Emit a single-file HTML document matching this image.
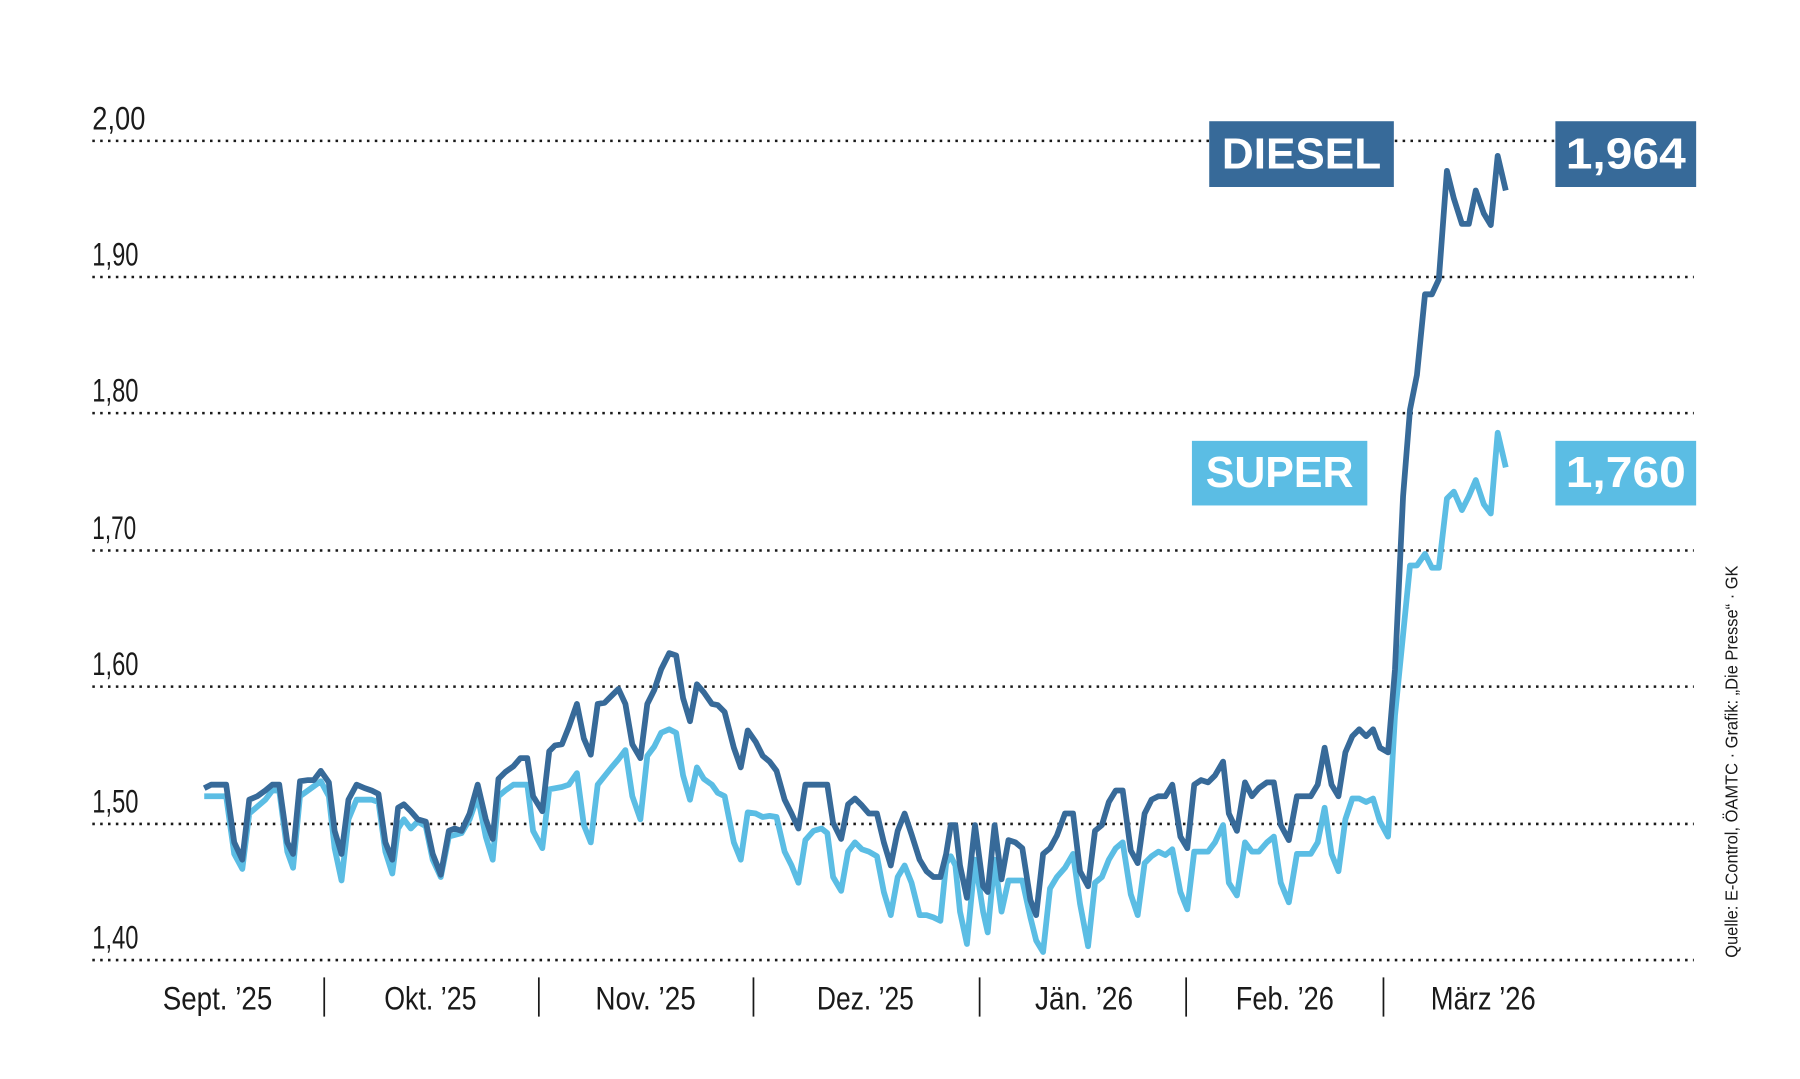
<!DOCTYPE html>
<html><head><meta charset="utf-8"><style>
html,body{margin:0;padding:0;background:#fff;}
svg{display:block;}
text{font-family:"Liberation Sans",sans-serif;}
</style></head><body>
<svg width="1800" height="1079" viewBox="0 0 1560 935" xmlns="http://www.w3.org/2000/svg">
<rect width="1560" height="935" fill="#fff"/>
<g stroke="#1a1a1a" stroke-width="2.2" stroke-dasharray="2.2 4.6" stroke-linecap="butt">
<line x1="80" y1="122" x2="1468" y2="122"/>
<line x1="80" y1="240" x2="1468" y2="240"/>
<line x1="80" y1="358" x2="1468" y2="358"/>
<line x1="80" y1="477" x2="1468" y2="477"/>
<line x1="80" y1="595" x2="1468" y2="595"/>
<line x1="80" y1="714" x2="1468" y2="714"/>
<line x1="80" y1="832" x2="1468" y2="832"/>
</g>
<g font-size="28" fill="#1a1a1a">
<text x="80" y="112" textLength="46" lengthAdjust="spacingAndGlyphs">2,00</text>
<text x="80" y="230" textLength="40" lengthAdjust="spacingAndGlyphs">1,90</text>
<text x="80" y="348" textLength="40" lengthAdjust="spacingAndGlyphs">1,80</text>
<text x="80" y="467" textLength="38" lengthAdjust="spacingAndGlyphs">1,70</text>
<text x="80" y="585" textLength="40" lengthAdjust="spacingAndGlyphs">1,60</text>
<text x="80" y="704" textLength="40" lengthAdjust="spacingAndGlyphs">1,50</text>
<text x="80" y="822" textLength="40" lengthAdjust="spacingAndGlyphs">1,40</text>
</g>
<g font-size="28" fill="#1a1a1a">
<text x="141" y="875" textLength="95" lengthAdjust="spacingAndGlyphs">Sept. ’25</text>
<text x="333" y="875" textLength="80" lengthAdjust="spacingAndGlyphs">Okt. ’25</text>
<text x="516" y="875" textLength="87" lengthAdjust="spacingAndGlyphs">Nov. ’25</text>
<text x="708" y="875" textLength="84" lengthAdjust="spacingAndGlyphs">Dez. ’25</text>
<text x="897" y="875" textLength="85" lengthAdjust="spacingAndGlyphs">Jän. ’26</text>
<text x="1071" y="875" textLength="85" lengthAdjust="spacingAndGlyphs">Feb. ’26</text>
<text x="1240" y="875" textLength="91" lengthAdjust="spacingAndGlyphs">März ’26</text>
</g>
<g stroke="#1a1a1a" stroke-width="1.5">
<line x1="281" y1="847" x2="281" y2="881"/>
<line x1="467" y1="847" x2="467" y2="881"/>
<line x1="653" y1="847" x2="653" y2="881"/>
<line x1="849" y1="847" x2="849" y2="881"/>
<line x1="1028" y1="847" x2="1028" y2="881"/>
<line x1="1199" y1="847" x2="1199" y2="881"/>
</g>
<text transform="translate(1506,830) rotate(-90)" font-size="15" fill="#1a1a1a" textLength="340" lengthAdjust="spacingAndGlyphs">Quelle: E-Control, ÖAMTC · Grafik: „Die Presse“ · GK</text>
<polyline fill="none" stroke="#5bbde4" stroke-width="5" stroke-linejoin="round" points="177,690 196,690 203,740 210,753 216,705 230,693 236,685 242,685 249,738 254,752 260,690 278,677 285,690 290,735 296,763 302,710 309,693 322,693 328,695 334,738 340,757 345,718 350,710 356,718 362,712 369,716 375,745 382,760 389,725 400,722 407,710 414,690 421,725 427,745 432,690 438,685 445,680 457,680 462,720 470,735 476,684 487,682 493,680 500,670 506,715 512,730 518,680 530,665 536,658 542,650 548,690 555,710 561,655 567,647 573,635 580,632 586,635 592,672 598,693 604,665 610,675 617,680 622,687 628,690 636,730 642,745 648,704 655,705 661,708 667,707 673,708 680,738 686,750 692,765 698,728 705,720 712,718 717,722 722,760 729,772 735,738 741,730 747,736 753,738 760,742 766,773 772,793 778,760 784,750 790,765 797,793 803,793 809,795 815,798 820,748 824,742 828,750 832,790 838,818 845,745 852,790 856,808 862,745 868,790 874,763 880,763 886,763 893,795 898,815 904,825 910,770 916,760 923,752 930,740 936,783 943,820 949,765 955,760 961,745 967,735 973,730 980,775 986,793 992,748 998,742 1004,738 1010,741 1016,736 1023,773 1029,788 1035,738 1047,738 1053,730 1060,715 1065,765 1072,776 1079,730 1085,738 1091,738 1098,730 1104,725 1110,765 1117,782 1124,740 1136,740 1142,730 1148,700 1154,740 1160,755 1166,710 1172,692 1178,692 1184,695 1190,692 1196,712 1203,725 1209,620 1216,550 1222,490 1228,490 1235,480 1241,492 1247,492 1254,432 1260,426 1267,442 1273,430 1279,416 1286,437 1292,445 1298,375 1305,405"/>
<polyline fill="none" stroke="#376a99" stroke-width="5" stroke-linejoin="round" points="177,683 183,680 196,680 203,730 210,745 216,693 223,690 230,685 236,680 242,680 249,730 254,740 260,677 267,676 272,676 278,668 285,678 290,720 296,740 302,693 309,680 316,683 322,685 328,688 334,730 340,745 345,700 350,697 356,703 362,710 369,712 375,740 382,758 389,720 394,718 400,720 407,705 414,680 421,710 427,727 432,675 438,669 445,664 451,657 457,657 462,690 470,703 476,651 481,646 487,645 493,630 500,610 506,640 512,654 518,610 524,609 530,603 536,597 542,610 548,645 555,657 561,610 567,598 573,580 580,566 586,568 592,605 598,625 604,593 610,600 617,610 622,611 628,617 636,648 642,665 648,633 655,643 661,655 667,660 673,668 680,693 686,705 692,718 698,680 705,680 712,680 717,680 722,713 729,727 735,697 741,692 747,698 753,705 760,705 766,730 772,750 778,720 784,705 790,723 797,745 803,755 809,760 815,760 820,740 824,715 828,715 832,750 838,778 845,715 852,768 856,773 862,715 868,762 874,728 880,730 886,735 893,780 898,793 904,740 910,735 916,724 923,705 930,705 936,755 943,768 949,720 955,715 961,695 967,685 973,685 980,737 986,748 992,705 998,693 1004,690 1010,690 1016,680 1023,725 1029,735 1035,680 1041,676 1047,678 1053,672 1060,660 1065,705 1072,720 1079,678 1085,690 1091,683 1098,678 1104,678 1110,715 1117,728 1124,690 1130,690 1136,690 1142,680 1148,648 1154,680 1160,690 1166,652 1172,638 1178,632 1184,638 1190,632 1196,648 1203,652 1209,580 1216,430 1222,355 1228,325 1235,255 1241,255 1247,242 1254,148 1260,172 1267,194 1273,194 1279,165 1286,185 1292,195 1298,135 1305,165"/>
<rect x="1048" y="105" width="160" height="57" fill="#376a99"/>
<text x="1128" y="146" font-size="38" font-weight="bold" fill="#fff" text-anchor="middle" textLength="138" lengthAdjust="spacingAndGlyphs">DIESEL</text>
<rect x="1348" y="105" width="122" height="57" fill="#376a99"/>
<text x="1409" y="146" font-size="38" font-weight="bold" fill="#fff" text-anchor="middle" textLength="104" lengthAdjust="spacingAndGlyphs">1,964</text>
<rect x="1033" y="382" width="152" height="56" fill="#5bbde4"/>
<text x="1109" y="422" font-size="38" font-weight="bold" fill="#fff" text-anchor="middle" textLength="128" lengthAdjust="spacingAndGlyphs">SUPER</text>
<rect x="1348" y="382" width="122" height="56" fill="#5bbde4"/>
<text x="1409" y="422" font-size="38" font-weight="bold" fill="#fff" text-anchor="middle" textLength="104" lengthAdjust="spacingAndGlyphs">1,760</text>
</svg>
</body></html>
